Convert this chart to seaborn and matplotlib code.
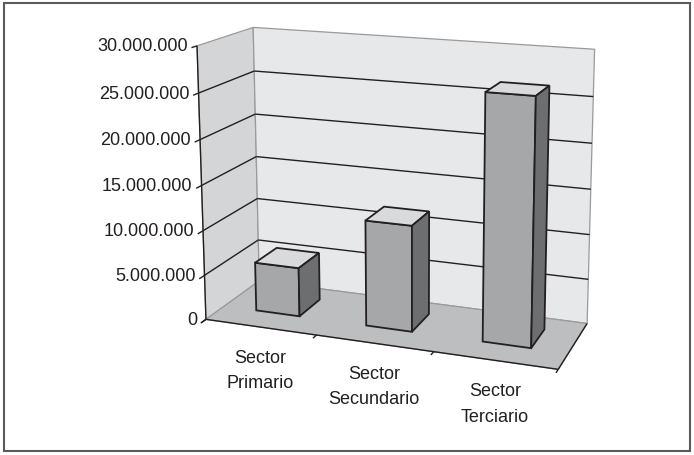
import numpy as np
import matplotlib
matplotlib.use("Agg")
import matplotlib.pyplot as plt
from matplotlib.patches import Polygon, Rectangle
import seaborn as sns

# ── Datos ─────────────────────────────
SECTORES = ['Sector\nPrimario', 'Sector\nSecundario', 'Sector\nTerciario']
VALORES = [5_500_000, 11_700_000, 26_500_000]
TICKS = [0, 5_000_000, 10_000_000, 15_000_000,
         20_000_000, 25_000_000, 30_000_000]
VMAX = 30_000_000

# ── Cámara: caja 3D (u=categoría, w=valor, t=profundidad) → píxeles ──
CAJA_3D = np.array([
    [0, 0, 0], [0, 1, 0], [0, 0, 1], [0, 1, 1],
    [1, 0, 1], [1, 1, 1], [1, 0, 0],
    [1/3, 0, 0], [2/3, 0, 0], [0, .5, 0], [1, .5, 1]])
CAJA_PX = np.array([
    [207, 318], [197, 48], [259, 285], [253, 28],
    [587, 321], [595, 51], [558, 373],
    [317, 337], [433, 353], [201, 184], [591, 190]], dtype=float)

T0, T1 = 0.33, 0.75          # profundidad de las barras
ANCHO = 0.4 / 3              # ancho de barra (gap 150%)

C_IZQ, C_FONDO, C_SUELO = '#d4d5d7', '#e7e8ea', '#bdbec0'
C_FRENTE, C_TAPA, C_LADO = '#a6a7a9', '#d9dadb', '#6d6e70'
C_LINEA, C_BORDE = '#231f20', '#9a9a9a'


def ajustar_camara(X, x):
    m, s = x.mean(0), x.std()
    xn = (x - m) / s
    filas = []
    for (a, b, c), (px, py) in zip(X, xn):
        filas.append([a, b, c, 1, 0, 0, 0, 0, -px*a, -px*b, -px*c, -px])
        filas.append([0, 0, 0, 0, a, b, c, 1, -py*a, -py*b, -py*c, -py])
    _, _, vt = np.linalg.svd(np.array(filas))
    return vt[-1].reshape(3, 4), m, s


P, MEDIA, ESCALA = ajustar_camara(CAJA_3D, CAJA_PX)


def proj(u, w, t):
    h = P @ np.array([u, w, t, 1.0])
    return h[:2] / h[2] * ESCALA + MEDIA


def cara(ax, pts, fc, ec, lw, z):
    ax.add_patch(Polygon([proj(*p) for p in pts], closed=True,
                         facecolor=fc, edgecolor=ec, lw=lw,
                         zorder=z, joinstyle='miter'))


def linea(ax, p0, p1, color, lw, z):
    a, b = proj(*p0), proj(*p1)
    ax.plot([a[0], b[0]], [a[1], b[1]], color=color, lw=lw,
            zorder=z, solid_capstyle='butt')


sns.set_theme(style='white')
plt.rcParams['font.family'] = ['Liberation Sans', 'DejaVu Sans']

fig = plt.figure(figsize=(6.94, 4.56), dpi=100)
fig.patch.set_facecolor('white')
ax = fig.add_axes([0, 0, 1, 1])
ax.set_xlim(0, 694)
ax.set_ylim(456, 0)
ax.axis('off')

# ── Paredes y suelo ───────────────────
cara(ax, [(0, 0, 0), (0, 1, 0), (0, 1, 1), (0, 0, 1)], C_IZQ, C_BORDE, 0.9, 1)
cara(ax, [(0, 0, 1), (0, 1, 1), (1, 1, 1), (1, 0, 1)], C_FONDO, C_BORDE, 0.9, 1)
cara(ax, [(0, 0, 0), (1, 0, 0), (1, 0, 1), (0, 0, 1)], C_SUELO, C_BORDE, 0.9, 1)

# ── Líneas de división ────────────────
for v in TICKS[1:-1]:
    w = v / VMAX
    linea(ax, (0, w, 0), (0, w, 1), C_LINEA, 1.0, 2)
    linea(ax, (0, w, 1), (1, w, 1), C_LINEA, 1.0, 2)

# ── Ejes ──────────────────────────────
linea(ax, (0, 0, 0), (0, 1, 0), C_LINEA, 1.0, 3)
linea(ax, (0, 0, 0), (1, 0, 0), C_LINEA, 1.0, 3)
linea(ax, (1, 0, 0), (1, 0, 1), C_LINEA, 1.0, 3)
for v in TICKS:
    w = v / VMAX
    linea(ax, (0, w, 0), (0, w, -0.09), C_LINEA, 1.0, 3)
    x, y = proj(0, w, 0)
    ax.text(x - 9, y, f'{v:,}'.replace(',', '.'), ha='right', va='center',
            fontsize=13, color=C_LINEA)
for k in range(len(SECTORES) + 1):
    u = k / len(SECTORES)
    linea(ax, (u, 0, 0), (u, 0, -0.07), C_LINEA, 1.0, 3)

# ── Barras ────────────────────────────
for i, (nombre, v) in enumerate(zip(SECTORES, VALORES)):
    c = (i + 0.5) / len(SECTORES)
    u0, u1, w = c - ANCHO / 2, c + ANCHO / 2, v / VMAX
    cara(ax, [(u0, 0, T0), (u1, 0, T0), (u1, w, T0), (u0, w, T0)],
         C_FRENTE, C_LINEA, 1.3, 4)
    cara(ax, [(u0, w, T0), (u1, w, T0), (u1, w, T1), (u0, w, T1)],
         C_TAPA, C_LINEA, 1.3, 4)
    cara(ax, [(u1, 0, T0), (u1, 0, T1), (u1, w, T1), (u1, w, T0)],
         C_LADO, C_LINEA, 1.3, 4)
    x, y = proj(c, 0, 0)
    ax.text(x, y + 43, nombre, ha='center', va='center', fontsize=13,
            linespacing=1.65, color=C_LINEA)

# ── Marco exterior ────────────────────
ax.add_patch(Rectangle((4, 4), 686, 448, fill=False, edgecolor='#5a5a5a',
                       lw=1.5, zorder=6))

fig.savefig('out.png', dpi=100, facecolor='white')
plt.close(fig)
